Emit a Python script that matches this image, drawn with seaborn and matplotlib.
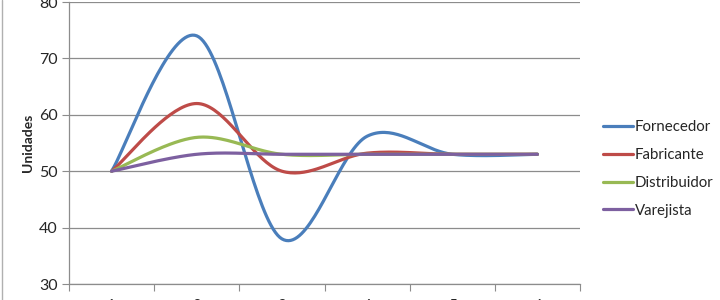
import numpy as np
import pandas as pd
import matplotlib
matplotlib.use("Agg")
import matplotlib.pyplot as plt
import seaborn as sns
from matplotlib.lines import Line2D

categories = [1, 2, 3, 4, 5, 6]
fornecedor = [50, 74, 38, 56.2, 53, 53]
fabricante = [50, 62, 50, 53.2, 53, 53]
distribuidor = [50, 56, 53, 53, 53, 53]
varejista = [50, 53, 53, 53, 53, 53]
series_names = ["Fornecedor", "Fabricante", "Distribuidor", "Varejista"]
colors = ["#4A7EBB", "#BE4B48", "#98B954", "#7D60A0"]


def smooth(xs, ys, n=40):
    xs = np.asarray(xs, float)
    ys = np.asarray(ys, float)
    px = np.concatenate([[xs[0]], xs, [xs[-1]]])
    py = np.concatenate([[ys[0]], ys, [ys[-1]]])
    ox, oy = [], []
    t = np.linspace(0, 1, n)
    for i in range(1, len(px) - 2):
        p0 = np.array([px[i], py[i]])
        p3 = np.array([px[i + 1], py[i + 1]])
        c1 = p0 + (p3 - np.array([px[i - 1], py[i - 1]])) / 6
        c2 = p3 - (np.array([px[i + 2], py[i + 2]]) - p0) / 6
        b = ((1 - t) ** 3)[:, None] * p0 + (3 * (1 - t) ** 2 * t)[:, None] * c1 \
            + (3 * (1 - t) * t ** 2)[:, None] * c2 + (t ** 3)[:, None] * p3
        ox.extend(b[:, 0]); oy.extend(b[:, 1])
    return ox, oy


rows = []
for name, vals in zip(series_names, [fornecedor, fabricante, distribuidor, varejista]):
    sx, sy = smooth(categories, vals)
    for k, (a, b) in enumerate(zip(sx, sy)):
        rows.append({"serie": name, "x": a, "y": b, "order": k})
df = pd.DataFrame(rows)

sns.set_style("white")
plt.rcParams["font.family"] = ["Lato", "DejaVu Sans"]

fig = plt.figure(figsize=(7.2, 3.0), dpi=100)
ax = fig.add_axes([69 / 720, 16 / 300, 511 / 720, 282 / 300])

sns.lineplot(data=df, x="x", y="y", hue="serie", palette=colors, sort=False,
             estimator=None, units="serie", linewidth=2.3, ax=ax, legend=False)

ax.set_xlim(0.5, 6.5)
ax.set_ylim(30, 80)
ax.set_yticks(range(30, 81, 10))
ax.yaxis.grid(True, color="#8c8c8c", linewidth=0.9)
ax.set_axisbelow(True)
ax.set_xticks(np.arange(0.5, 6.6, 1.0))
ax.set_xticklabels([])
ax.set_xticks(categories, minor=True)
ax.set_xticklabels([str(c) for c in categories], minor=True, fontsize=11)
ax.tick_params(axis="x", which="major", length=5, color="#8c8c8c", direction="out", bottom=True)
ax.tick_params(axis="x", which="minor", length=0, pad=11)
ax.tick_params(axis="y", length=5, color="#8c8c8c", direction="out", left=True, labelsize=11.5, pad=3)
for s in ["top", "right"]:
    ax.spines[s].set_visible(False)
for s in ["left", "bottom"]:
    ax.spines[s].set_color("#8c8c8c")
    ax.spines[s].set_linewidth(0.9)
ax.set_xlabel("")
ax.set_ylabel("Unidades", fontsize=10, fontweight="bold", labelpad=4)

handles = [Line2D([0], [0], color=c, linewidth=2.3) for c in colors]
fig.legend(handles, series_names, loc="center left", bbox_to_anchor=(589 / 720, 1 - 169 / 300),
           frameon=False, fontsize=10.8, handlelength=2.0, handletextpad=0.15, labelspacing=0.92,
           borderaxespad=0.5, borderpad=0.4)

fig.add_artist(Line2D([1.5 / 720, 1.5 / 720], [0, 1], color="#b0b0b0", linewidth=1))

fig.savefig("out.png", dpi=100)
